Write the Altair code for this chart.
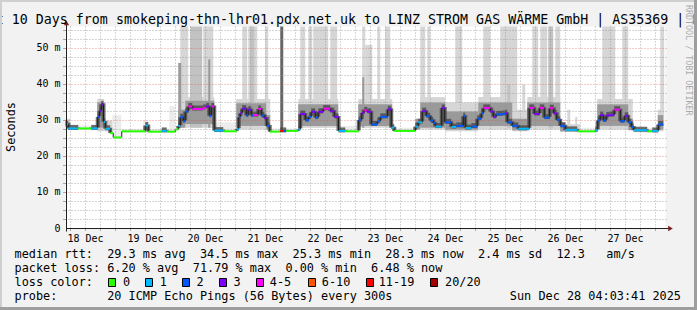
import altair as alt
import pandas as pd

MONO = "DejaVu Sans Mono"

# ---------------- data (time = hours after 18 Dec 2025 00:00, values in ms) ----------------
# median RTT as steps: each step starts at med_t and lasts until the next one
med_t = [4.0, 5.1, 9.1, 14.3, 16.9, 17.6, 18.3, 19.2, 19.9, 21.9,
         23.1, 26.5, 35.9, 37.1, 42.5, 44.5, 47.9, 49.1, 49.9, 51.1,
         51.9, 53.1, 54.7, 59.1, 60.3, 61.5, 62.3, 63.5, 67.1, 72.5,
         73.3, 73.9, 74.7, 76.3, 77.1, 78.3, 79.1, 81.1, 82.3, 83.5,
         84.5, 85.7, 89.9, 91.1, 92.3, 97.1, 97.9, 99.9, 101.3, 102.3,
         103.9, 105.1, 107.1, 109.9, 111.5, 113.2, 115.9, 121.3, 122.5, 123.5,
         124.7, 126.3, 128.7, 129.9, 132.9, 134.3, 135.5, 143.9, 145.1, 146.7,
         148.3, 149.9, 151.1, 151.9, 154.5, 155.7, 158.3, 160.3, 163.1, 163.9,
         166.3, 168.7, 170.3, 171.1, 173.9, 175.1, 176.3, 178.7, 179.9, 180.7,
         182.7, 185.1, 189.5, 191.5, 193.7, 195.5, 197.7, 199.3, 200.5, 201.9,
         203.9, 208.7, 215.9, 216.9, 217.9, 219.1, 220.3, 221.5, 223.5, 225.9,
         227.7, 229.1, 230.3, 231.3, 236.7, 238.7, 241.1]
med_end = 243.1
med_v = [29.0, 27.8, 27.8, 27.8, 31.0, 32.7, 34.5, 29.6, 27.7, 26.5,
         25.3, 27.0, 28.6, 26.9, 27.1, 26.9, 27.5, 28.5, 30.9, 29.8,
         32.5, 33.9, 33.2, 33.5, 33.9, 31.3, 33.9, 27.2, 27.0, 27.6,
         30.9, 32.0, 33.3, 31.4, 33.0, 31.4, 31.5, 33.2, 31.4, 30.7,
         28.5, 26.9, 27.1, 27.1, 27.1, 27.5, 31.8, 30.1, 31.0, 32.4,
         30.8, 32.4, 33.3, 32.6, 31.0, 27.1, 27.0, 30.1, 32.1, 32.8,
         32.4, 28.9, 29.8, 31.0, 33.1, 28.0, 27.1, 28.3, 29.5, 32.6,
         31.2, 30.0, 29.3, 28.3, 33.5, 29.5, 28.2, 28.5, 31.2, 27.9,
         28.3, 30.5, 32.0, 33.5, 32.5, 31.0, 31.7, 31.8, 32.0, 29.5,
         28.5, 27.7, 33.5, 31.8, 33.5, 30.8, 33.4, 32.0, 30.2, 28.5,
         27.4, 27.0, 27.3, 30.0, 31.5, 30.0, 31.4, 31.5, 33.0, 29.8,
         31.3, 29.5, 28.2, 27.3, 27.0, 27.1, 28.9]
# loss class per step (index into loss_labels)
med_loss = [1, 1, 0, 1, 2, 3, 3, 1, 1, 0,
            0, 0, 1, 0, 1, 0, 0, 1, 2, 2,
            2, 4, 4, 4, 3, 2, 4, 1, 0, 1,
            2, 3, 3, 2, 3, 2, 4, 4, 2, 3,
            2, 0, 6, 2, 0, 1, 3, 2, 2, 3,
            2, 3, 4, 3, 3, 1, 0, 2, 3, 4,
            3, 2, 2, 2, 3, 1, 0, 1, 1, 3,
            2, 2, 2, 1, 3, 2, 1, 2, 2, 1,
            2, 2, 2, 4, 3, 3, 2, 2, 3, 2,
            2, 1, 4, 3, 4, 2, 4, 3, 2, 2,
            1, 0, 1, 2, 3, 2, 3, 3, 4, 2,
            3, 2, 2, 1, 0, 1, 2]

loss_labels = ["0", "1", "2", "3", "4-5", "6-10", "11-19", "20/20"]
loss_colors = ["#26ff00", "#00b8ff", "#0059ff", "#7e00ff", "#ff00ff", "#ff5500", "#ff0000", "#a10000"]

# smoke: (start h, end h, low ms, high ms, shade level)
smoke_quiet = [
    (4.3, 16.7, 27.3, 28.6, 1), (4.0, 5.9, 27.5, 30.5, 2), (19.5, 22.7, 27.0, 30.0, 2),
    (22.7, 26.3, 25.0, 31.5, 1), (26.3, 47.9, 26.6, 27.6, 1), (35.1, 37.1, 26.8, 30.0, 1),
    (45.5, 47.9, 26.8, 34.0, 1), (63.5, 72.3, 26.8, 29.5, 1), (85.9, 97.1, 26.8, 27.8, 1),
    (113.1, 121.1, 26.8, 28.5, 1), (134.7, 143.9, 26.8, 28.0, 1), (204.7, 205.9, 27.0, 33.0, 2),
    (207.9, 208.7, 27.0, 31.0, 2), (209.9, 216.7, 26.6, 28.0, 1), (230.9, 240.9, 26.6, 28.0, 1),
]
smoke_columns = [
    (49.1, 50.3, 28.0, 46.0, 4), (49.9, 53.1, 28.0, 56.1, 2), (53.9, 58.7, 28.0, 56.1, 3),
    (59.1, 63.1, 28.0, 56.1, 2), (61.1, 61.9, 28.0, 47.0, 4), (74.7, 76.7, 28.0, 56.1, 2),
    (77.1, 80.7, 28.0, 56.1, 2), (77.9, 79.5, 35.0, 56.1, 3), (83.9, 85.1, 28.0, 56.1, 2),
    (89.9, 91.1, 27.0, 56.1, 6), (97.9, 99.9, 28.0, 56.1, 2), (101.1, 102.7, 28.0, 56.1, 2),
    (103.1, 109.1, 28.0, 56.1, 2), (109.9, 112.7, 28.0, 56.1, 2), (122.7, 123.9, 28.0, 56.1, 2),
    (122.7, 123.5, 28.0, 42.0, 4), (123.9, 126.7, 28.0, 51.0, 2), (128.7, 129.9, 28.0, 56.1, 2),
    (131.9, 133.9, 28.0, 56.1, 2), (145.9, 147.9, 28.0, 56.1, 2), (148.7, 149.9, 28.0, 56.1, 2),
    (159.9, 162.7, 28.0, 56.1, 2), (171.1, 173.9, 28.0, 56.1, 2), (177.9, 184.7, 28.0, 56.1, 2),
    (180.7, 181.9, 28.0, 40.0, 3), (186.7, 187.9, 28.0, 40.0, 2), (190.7, 193.1, 28.0, 56.1, 2),
    (193.9, 196.7, 28.0, 56.1, 2), (197.1, 199.1, 28.0, 56.1, 3), (199.9, 201.9, 28.0, 56.1, 2),
    (218.7, 223.9, 28.0, 56.1, 2), (226.7, 229.1, 28.0, 56.1, 2), (241.9, 243.5, 28.0, 56.1, 2),
]
smoke_body = [
    (4.0, 5.9, 28.2, 29.5, 4),
    (16.7, 19.5, 27.0, 36.0, 2), (16.7, 19.5, 28.0, 35.0, 4),
    (49.1, 51.9, 28.0, 33.0, 4),
    (51.9, 63.5, 28.0, 36.5, 2), (51.9, 63.5, 29.0, 35.5, 4),
    (72.3, 85.9, 27.5, 36.0, 2), (72.3, 84.3, 28.5, 34.8, 4), (84.3, 85.9, 27.5, 31.5, 4),
    (97.1, 113.1, 28.0, 36.0, 2), (97.1, 113.1, 28.5, 34.5, 4),
    (121.1, 134.7, 28.0, 36.0, 2), (121.1, 134.7, 28.5, 34.5, 4),
    (143.9, 145.9, 27.5, 30.5, 4),
    (145.9, 155.9, 27.5, 36.5, 2), (145.9, 155.9, 28.0, 35.0, 4),
    (155.9, 169.1, 27.0, 35.0, 2), (155.9, 169.1, 27.5, 32.5, 4),
    (169.1, 182.7, 27.5, 36.5, 2), (169.1, 182.7, 28.5, 35.0, 4),
    (182.7, 188.7, 27.0, 33.0, 2), (182.7, 188.7, 27.3, 30.5, 4),
    (188.7, 201.9, 27.5, 36.5, 2), (188.7, 201.9, 28.5, 35.0, 4),
    (201.9, 209.9, 26.8, 29.0, 2), (201.9, 204.0, 27.0, 29.5, 4),
    (216.7, 230.9, 27.5, 36.0, 2), (216.7, 229.1, 28.5, 34.5, 4), (229.1, 230.9, 27.3, 30.5, 4),
    (240.9, 243.1, 27.0, 33.0, 2), (240.9, 243.1, 27.5, 31.5, 4),
]
shade_colors = {1: "#ececec", 2: "#d6d6d6", 3: "#c2c2c2", 4: "#9a9a9a", 5: "#686868", 6: "#666666"}

day_labels = ["18 Dec", "19 Dec", "20 Dec", "21 Dec", "22 Dec",
              "23 Dec", "24 Dec", "25 Dec", "26 Dec", "27 Dec"]
day_label_t = [12, 36, 60, 84, 108, 132, 156, 180, 204, 228]
y_ticks = [0, 10, 20, 30, 40, 50]
y_tick_labels = ["0\u00a0\u00a0", "10 m", "20 m", "30 m", "40 m", "50 m"]
y_top = 56.111

title_text = "t 10 Days from smokeping-thn-lhr01.pdx.net.uk to LINZ STROM GAS WÄRME GmbH | AS35369 | L"
y_title = "Seconds"
watermark = "RRDTOOL / TOBI OETIKER"
stat_lines = [
    "median rtt:  29.3 ms avg  34.5 ms max  25.3 ms min  28.3 ms now  2.4 ms sd  12.3   am/s",
    "packet loss: 6.20 % avg  71.79 % max  0.00 % min  6.48 % now",
    "loss color:",
    "probe:       20 ICMP Echo Pings (56 Bytes) every 300s",
]
date_text = "Sun Dec 28 04:03:41 2025"

# ---------------- layout ----------------
PAD_L, PAD_T, W, H = 65.5, 26.5, 600, 202
LINE_Y = [258.3, 271.9, 285.9, 299.9]
SQ_X = [108.5, 145.5, 182.5, 219.5, 256.5, 308.5, 366.5, 430.5]
LAB_X = [123.1, 159.7, 196.4, 233.4, 269.8, 321.8, 378.7, 445.1]
GRID = "#8f8f8f"
MGRID = "#de4f4f"
AXC = "#1f1f1f"
ARROW = "#7f1f1f"


def nb(s):
    return s.replace(" ", "\u00a0")


XS = alt.Scale(domain=[4, 244], nice=False, zero=False)
YS = alt.Scale(domain=[0, y_top], nice=False, zero=False)


def xq(f):
    return alt.X(f, type="quantitative", scale=XS, axis=None)


def yq(f):
    return alt.Y(f, type="quantitative", scale=YS, axis=None)


one = pd.DataFrame({"d": [0]})


def txt(s, x, y, size, align="left", baseline="alphabetic", angle=0, color="#000000", opacity=1):
    kw = dict(text=nb(s), align=align, baseline=baseline, font=MONO, fontSize=size,
              color=color, opacity=opacity)
    if angle:
        kw["angle"] = angle
    return alt.Chart(one).mark_text(**kw).encode(x=alt.value(x - PAD_L), y=alt.value(y - PAD_T))


def box(x0, x1, y0, y1, fill, stroke=None):
    kw = dict(fill=fill)
    if stroke:
        kw.update(stroke=stroke, strokeWidth=1)
    else:
        kw.update(strokeWidth=0)
    return alt.Chart(one).mark_rect(**kw).encode(
        x=alt.value(x0 - PAD_L), x2=alt.value(x1 - PAD_L),
        y=alt.value(y0 - PAD_T), y2=alt.value(y1 - PAD_T))


# axis labels through the scales
xlab = pd.DataFrame({"t": day_label_t, "lab": day_labels})
xlab_layer = alt.Chart(xlab).mark_text(font=MONO, fontSize=10, color="#000000", align="center",
                                       baseline="alphabetic").encode(
    x=xq("t"), y=alt.value(H + 13.5), text="lab:N")
ylab = pd.DataFrame({"v": y_ticks, "lab": y_tick_labels})
ylab_layer = alt.Chart(ylab).mark_text(font=MONO, fontSize=10, color="#000000", align="right",
                                       baseline="middle").encode(
    x=alt.value(-5), y=yq("v"), text="lab:N")

# smoke
smoke_rows = smoke_quiet + smoke_columns + smoke_body
smoke = pd.DataFrame(smoke_rows, columns=["t0", "t1", "lo", "hi", "shade"])
smoke["col"] = smoke["shade"].map(shade_colors)
smoke = smoke.sort_values("shade", kind="mergesort")
smoke_layer = alt.Chart(smoke).mark_rect(strokeWidth=0).encode(
    x=xq("t0"), x2=alt.X2("t1"), y=yq("lo"), y2=alt.Y2("hi"),
    fill=alt.Fill("col:N", scale=None))

# grid
minor_v = pd.DataFrame({"t": [h for h in range(6, 244, 6) if h % 24]})
major_v = pd.DataFrame({"t": list(range(24, 244, 24))})
minor_h = pd.DataFrame({"v": [2.5 * k for k in range(1, 23) if k % 4]})
major_h = pd.DataFrame({"v": y_ticks[1:]})


def vgrid(df, color, op):
    a = alt.Chart(df).mark_rule(color=color, opacity=op, strokeDash=[1, 2], strokeWidth=1).encode(
        x=xq("t"), y=alt.value(0), y2=alt.value(H))
    b = alt.Chart(df).mark_rule(color=color, opacity=op, strokeWidth=1).encode(
        x=xq("t"), y=alt.value(H), y2=alt.value(H + 2.5))
    return [a, b]


def hgrid(df, color, op):
    a = alt.Chart(df).mark_rule(color=color, opacity=op, strokeDash=[1, 2], strokeWidth=1).encode(
        y=yq("v"), x=alt.value(0), x2=alt.value(W + 2))
    b = alt.Chart(df).mark_rule(color=color, opacity=op, strokeWidth=1).encode(
        y=yq("v"), x=alt.value(-2.5), x2=alt.value(0.5))
    return [a, b]


grid_layers = vgrid(minor_v, GRID, 0.75) + hgrid(minor_h, GRID, 0.75) + \
    vgrid(major_v, MGRID, 0.6) + hgrid(major_h, MGRID, 0.6)

# median line
seg = pd.DataFrame({"t0": med_t, "t1": med_t[1:] + [med_end], "v": med_v,
                    "loss": med_loss, "col": [loss_colors[i] for i in med_loss]})
jumps = pd.DataFrame({"t": med_t[1:], "v0": med_v[:-1], "v1": med_v[1:],
                      "busy": [max(a, b) for a, b in zip(med_loss[:-1], med_loss[1:])]})
# dense smoke that hugs the median while pings are lost
halo_seg = alt.Chart(seg[seg["loss"] > 0]).mark_rule(
    color="#484848", strokeWidth=5, opacity=0.8, yOffset=-1).encode(
    x=xq("t0"), x2=alt.X2("t1"), y=yq("v"))
halo_jump = alt.Chart(jumps[jumps["busy"] > 0]).mark_rule(
    color="#484848", strokeWidth=4, opacity=0.8, yOffset=-1).encode(
    x=xq("t"), y=yq("v0"), y2=alt.Y2("v1"))
jump_layer = alt.Chart(jumps).mark_rule(color="#1a1a1a", strokeWidth=1).encode(
    x=xq("t"), y=yq("v0"), y2=alt.Y2("v1"))
seg_layer = alt.Chart(seg).mark_rule(strokeWidth=2).encode(
    x=xq("t0"), x2=alt.X2("t1"), y=yq("v"), color=alt.Color("col:N", scale=None))

# axis lines and arrows
xaxis_line = alt.Chart(one).mark_rule(color=AXC, strokeWidth=1).encode(
    x=alt.value(1), x2=alt.value(604), y=alt.value(H))
yaxis_line = alt.Chart(one).mark_rule(color=AXC, strokeWidth=1).encode(
    x=alt.value(1), y=alt.value(H + 3), y2=alt.value(-2))
arrow_x = alt.Chart(one).mark_point(shape="triangle-right", filled=True, size=28, color=ARROW,
                                    opacity=1).encode(x=alt.value(605), y=alt.value(H))
arrow_y = alt.Chart(one).mark_point(shape="triangle-up", filled=True, size=28, color=ARROW,
                                    opacity=1).encode(x=alt.value(1), y=alt.value(-3.5))

# texts
texts = [
    txt(title_text, -4.2, 23.7, 13.3),
    txt(y_title, 15, 127, 11.85, align="center", angle=270),
    txt(watermark, 685.5, 5, 8.35, align="left", angle=90, opacity=0.3),
]
for line, yy in zip(stat_lines, LINE_Y):
    texts.append(txt(line, 14.5, yy, 11.85))
texts.append(txt(date_text, 681, LINE_Y[3], 11.85, align="right"))
legend_layers = []
for lab, col, sx, lx in zip(loss_labels, loss_colors, SQ_X, LAB_X):
    legend_layers.append(box(sx, sx + 7, 278.5, 286.5, col, stroke="#000000"))
    legend_layers.append(txt(lab, lx, LINE_Y[2], 11.85))

# frame
frame = [
    box(0, 697, 0, 2, "#cfcfcf"), box(0, 2, 0, 310, "#cfcfcf"),
    box(0, 697, 307, 310, "#9e9e9e"), box(694, 697, 0, 310, "#9e9e9e"),
]

chart = alt.layer(
    smoke_layer, *grid_layers, halo_seg, halo_jump, jump_layer, seg_layer,
    xaxis_line, yaxis_line, arrow_x, arrow_y, xlab_layer, ylab_layer,
    *texts, *legend_layers, *frame
).properties(
    width=W, height=H,
    padding={"left": PAD_L, "top": PAD_T, "right": 697 - PAD_L - W, "bottom": 310 - PAD_T - H},
    autosize=alt.AutoSizeParams(type="none"),
    background="#f2f2f2",
).configure_view(fill="#ffffff", strokeWidth=0)

chart.save("out.html", embed_options={"renderer": "svg", "actions": False})
